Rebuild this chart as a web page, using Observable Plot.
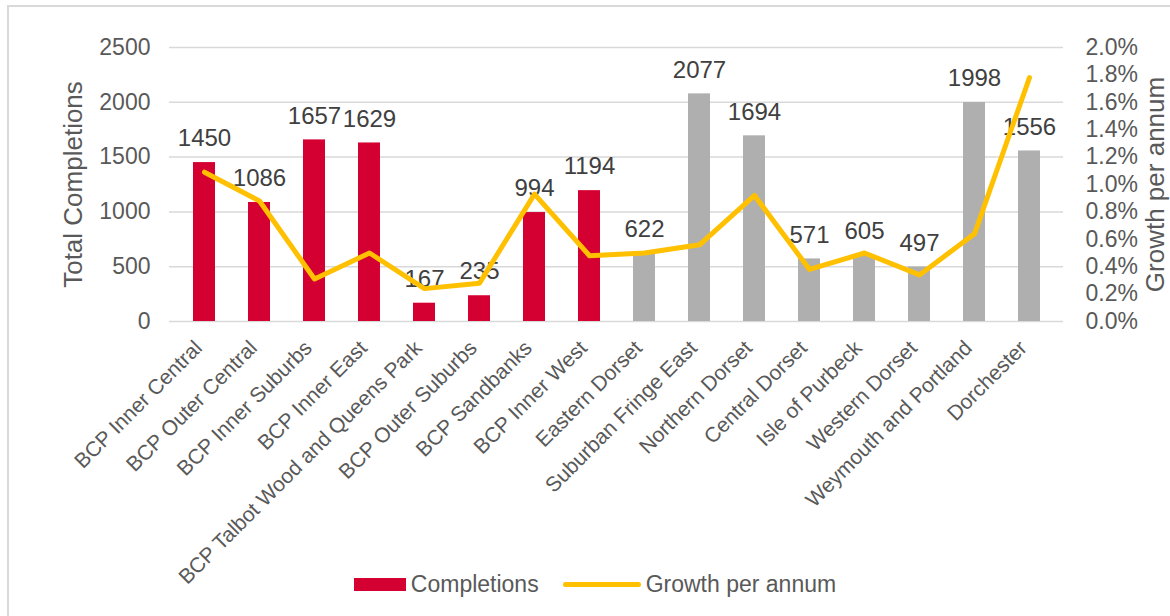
<!DOCTYPE html>
<html>
<head>
<meta charset="utf-8">
<script src="https://cdn.jsdelivr.net/npm/d3@7"></script>
<script src="https://cdn.jsdelivr.net/npm/@observablehq/plot@0.6"></script>
<style>
  html, body { margin: 0; padding: 0; background: #fff; }
  body { width: 1170px; height: 616px; position: relative; overflow: hidden; font-family: "Liberation Sans", Arial, sans-serif; }
  #frame { position: absolute; left: 7px; top: 5px; width: 1300px; height: 700px; border-left: 2px solid #d9d9d9; border-top: 2px solid #d9d9d9; }
  #chart { position: absolute; left: 0; top: 0; }
  #legend { position: absolute; left: 0; top: 566px; width: 1170px; height: 36px; display: flex; justify-content: center; align-items: center; gap: 14px; font-size: 23px; color: #595959; padding-left: 20px; box-sizing: border-box; }
  .item { display: flex; align-items: center; gap: 5px; }
  .sw { width: 52px; height: 13px; background: #d50032; }
  .ln { width: 78px; height: 5px; background: #ffc000; border-radius: 3px; }
</style>
</head>
<body>
<div id="frame"></div>
<div id="chart"></div>
<div id="legend">
  <div class="item"><div class="sw"></div><span>Completions</span></div>
  <div class="item" style="margin-left:10px"><div class="ln"></div><span>Growth per annum</span></div>
</div>
<script>
const categories = ["BCP Inner Central","BCP Outer Central","BCP Inner Suburbs","BCP Inner East","BCP Talbot Wood and Queens Park","BCP Outer Suburbs","BCP Sandbanks","BCP Inner West","Eastern Dorset","Suburban Fringe East","Northern Dorset","Central Dorset","Isle of Purbeck","Western Dorset","Weymouth and Portland","Dorchester"];
const completions = [1450,1086,1657,1629,167,235,994,1194,622,2077,1694,571,605,497,1998,1556];
const growthPct = [1.09,0.88,0.31,0.50,0.24,0.28,0.93,0.48,0.50,0.56,0.92,0.38,0.50,0.34,0.64,1.78];
const region = ["BCP","BCP","BCP","BCP","BCP","BCP","BCP","BCP","Dorset","Dorset","Dorset","Dorset","Dorset","Dorset","Dorset","Dorset"];
const leftTicks = [0,500,1000,1500,2000,2500];
const rightTicks = [0,0.2,0.4,0.6,0.8,1.0,1.2,1.4,1.6,1.8,2.0];

const k = 2500 / 2.0; // growth % -> left axis units
const data = categories.map((c, i) => ({cat: c, value: completions[i], growth: growthPct[i], region: region[i]}));

const chart = Plot.plot({
  width: 1170,
  height: 580,
  marginLeft: 169,
  marginRight: 107,
  marginTop: 47,
  marginBottom: 259,
  style: {fontFamily: "'Liberation Sans', Arial, sans-serif", color: "#595959", background: "transparent", overflow: "visible"},
  x: {type: "band", domain: categories, paddingInner: 0.6, paddingOuter: 0.3, axis: null},
  y: {domain: [0, 2500]},
  color: {domain: ["BCP","Dorset"], range: ["#d50032","#afafaf"]},
  marks: [
    Plot.gridY(leftTicks, {stroke: "#d9d9d9", strokeOpacity: 1, strokeWidth: 1.5}),
    Plot.barY(data, {x: "cat", y: "value", fill: "region"}),
    Plot.text(data, {x: "cat", y: "value", text: d => String(d.value), dy: -24, fontSize: 24, fill: "#404040"}),
    Plot.line(data, {x: "cat", y: d => d.growth * k, stroke: "#ffc000", strokeWidth: 5, strokeLinejoin: "round", strokeLinecap: "round"}),
    Plot.axisY(leftTicks, {anchor: "left", tickSize: 0, tickPadding: 19, fontSize: 23, fill: "#595959", label: null, tickFormat: d => String(d)}),
    Plot.axisY(rightTicks.map(t => t * k), {anchor: "right", tickSize: 0, tickPadding: 22, fontSize: 23, fill: "#595959", label: null, tickFormat: d => (d / k).toFixed(1) + "%"}),
    Plot.text(categories, {x: d => d, y: () => 0, text: d => d, rotate: -45, textAnchor: "end", lineAnchor: "middle", dx: -6, dy: 23, fontSize: 21, fill: "#595959"}),
    Plot.text(["Total Completions"], {frameAnchor: "left", textAnchor: "middle", dx: -96, rotate: -90, fontSize: 26, fill: "#595959"}),
    Plot.text(["Growth per annum"], {frameAnchor: "right", textAnchor: "middle", dx: 92, rotate: -90, fontSize: 26, fill: "#595959"})
  ]
});
document.getElementById("chart").appendChild(chart);
</script>
</body>
</html>
